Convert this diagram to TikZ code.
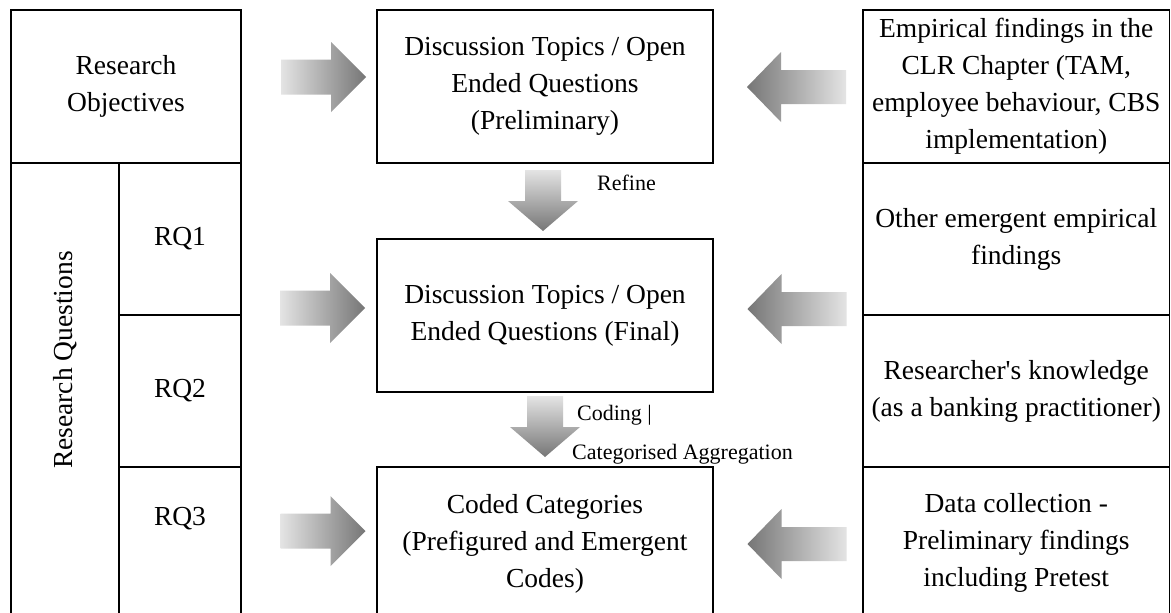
\documentclass[tikz,border=0pt]{standalone}
\usepackage{fontspec}
\setmainfont{Liberation Serif}
\newcommand\straightapos{\XeTeXglyph\XeTeXcharglyph"0027\relax}
\definecolor{arrl}{RGB}{228,228,228}
\definecolor{arrd}{RGB}{118,118,118}
\tikzset{
  cell/.style={draw, line width=1.5pt, inner sep=0pt, font=\fontsize{27.5}{37}\selectfont, align=center},
  txt/.style={inner sep=0pt, font=\fontsize{27.5}{37}\selectfont, align=center},
  lbl/.style={inner sep=0pt, font=\fontsize{22}{26}\selectfont, anchor=base west},
  rarrowpic/.pic={\shade[left color=arrl, right color=arrd] (-42.5,-17.5) -- (7.5,-17.5) -- (7.5,-35) -- (42.5,0) -- (7.5,35) -- (7.5,17.5) -- (-42.5,17.5) -- cycle;},
  larrowpic/.pic={\shade[left color=arrd, right color=arrl] (49.5,-17) -- (-15.5,-17) -- (-15.5,-35) -- (-49.5,0) -- (-15.5,35) -- (-15.5,17) -- (49.5,17) -- cycle;},
  darrowpic/.pic={\shade[top color=arrl, bottom color=arrd] (-18,0) -- (18,0) -- (18,31) -- (35,31) -- (0,61) -- (-35,31) -- (-18,31) -- cycle;},
}
\begin{document}
\begin{tikzpicture}[x=1pt, y=-1pt]
\useasboundingbox (0,0) rectangle (1171,613);
\clip (0,0) rectangle (1171,613);
\fill[white] (0,0) rectangle (1171,613);

% left panel
\node[cell, minimum width=230pt, minimum height=153pt] (ro) at (126,86.5) {Research\\Objectives};
\node[cell, minimum width=108pt, minimum height=477pt] (rqcol) at (65,401.5) {};
\node[txt, rotate=90] (rqt) at (65,360) {Research Questions};
\node[cell, minimum width=122pt, minimum height=152pt] (rq1) at (180,239) {RQ1};
\node[cell, minimum width=122pt, minimum height=152pt] (rq2) at (180,391) {RQ2};
\node[cell, minimum width=122pt, minimum height=173pt] (rq3) at (180,553.5) {};
\node[txt] (rq3t) at (180,519) {RQ3};

% centre column
\node[cell, minimum width=336pt, minimum height=153pt] (c1) at (545,86.5) {Discussion Topics / Open\\Ended Questions\\(Preliminary)};
\node[cell, minimum width=336pt, minimum height=153pt] (c2) at (545,315.5) {Discussion Topics / Open\\Ended Questions (Final)};
\node[cell, minimum width=336pt, minimum height=173pt] (c3) at (545,553.5) {};
\node[txt] (c3t) at (545,544) {Coded Categories\\(Prefigured and Emergent\\Codes)};

% right column
\node[cell, minimum width=306.5pt, minimum height=153pt] (r1) at (1016.25,86.5) {Empirical findings in the\\CLR Chapter (TAM,\\employee behaviour, CBS\\implementation)};
\node[cell, minimum width=306.5pt, minimum height=152pt] (r2) at (1016.25,239) {Other emergent empirical\\findings};
\node[cell, minimum width=306.5pt, minimum height=152pt] (r3) at (1016.25,391) {Researcher\straightapos s knowledge\\(as a banking practitioner)};
\node[cell, minimum width=306.5pt, minimum height=173pt] (r4) at (1016.25,553.5) {};
\node[txt] (r4t) at (1016.25,543) {Data collection -\\Preliminary findings\\including Pretest};

% block arrows
\pic at (323.5,77) {rarrowpic};
\pic at (322.5,308) {rarrowpic};
\pic at (323,531) {rarrowpic};
\pic at (796.5,87) {larrowpic};
\pic at (797,309) {larrowpic};
\pic at (797,544) {larrowpic};
\pic at (543,170) {darrowpic};
\pic at (545,396) {darrowpic};

% labels
\node[lbl] (refine) at (597,190.5) {Refine};
\node[lbl] (coding) at (577,420.5) {Coding |};
\node[lbl] (catagg) at (572,459.5) {Categorised Aggregation};
\end{tikzpicture}
\end{document}
